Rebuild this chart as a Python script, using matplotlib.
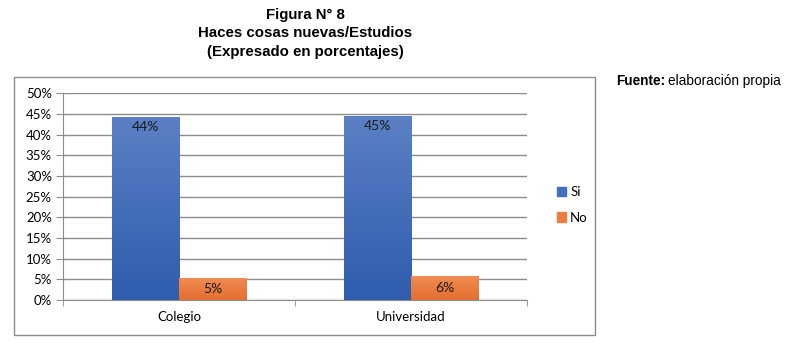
import numpy as np
import matplotlib
matplotlib.use("Agg")
import matplotlib.pyplot as plt
from matplotlib.colors import LinearSegmentedColormap
from matplotlib.patches import Rectangle

# Data
categories = ["Colegio", "Universidad"]
series_names = ["Si", "No"]
si_values = [44.2, 44.5]
no_values = [5.2, 5.7]
si_labels = ["44%", "45%"]
no_labels = ["5%", "6%"]
yticks = [0, 5, 10, 15, 20, 25, 30, 35, 40, 45, 50]

W, H = 808, 343
fig = plt.figure(figsize=(W / 100, H / 100), dpi=100)

# outer chart frame
fig.patches.append(Rectangle((14 / W, 1 - 335 / H), (595 - 14) / W, (335 - 77) / H,
                             transform=fig.transFigure, fill=False,
                             edgecolor="#8c8c8c", lw=1.0))

ax = fig.add_axes([63 / W, 1 - 300 / H, 464 / W, (300 - 93.3) / H])

x = np.arange(len(categories))
width = 0.29
blue_cmap = LinearSegmentedColormap.from_list("b", ["#2f5cad", "#5b80c5"])
orange_cmap = LinearSegmentedColormap.from_list("o", ["#e36e2e", "#f08b52"])

bars_si = ax.bar(x - width / 2, si_values, width, color="none", label=series_names[0], zorder=3)
bars_no = ax.bar(x + width / 2, no_values, width, color="none", label=series_names[1], zorder=3)

grad = np.linspace(0, 1, 256).reshape(-1, 1)
for bars, cmap in [(bars_si, blue_cmap), (bars_no, orange_cmap)]:
    for b in bars:
        x0, w, h = b.get_x(), b.get_width(), b.get_height()
        ax.imshow(grad, extent=[x0, x0 + w, 0, h], origin="lower", aspect="auto",
                  cmap=cmap, zorder=3)

font = "Lato"
for b, lab in zip(bars_si, si_labels):
    ax.text(b.get_x() + b.get_width() / 2, b.get_height() - 1.0, lab,
            ha="center", va="top", fontsize=10, family=font, color="#1a1a1a", zorder=4)
for b, lab in zip(bars_no, no_labels):
    ax.text(b.get_x() + b.get_width() / 2, b.get_height() / 2, lab,
            ha="center", va="center", fontsize=10, family=font, color="#1a1a1a", zorder=4)

ax.set_xlim(-0.5, len(categories) - 0.5)
ax.set_ylim(0, 50)
ax.set_yticks(yticks)
ax.set_yticklabels([f"{t}%" for t in yticks], family=font, fontsize=9.5)
ax.set_xticks(x)
ax.set_xticklabels(categories, family=font, fontsize=9.5)
ax.set_xticks([-0.5, 0.5, 1.5], minor=True)
ax.tick_params(axis="x", which="major", length=0, pad=8)
ax.tick_params(axis="x", which="minor", length=4, color="#8c8c8c", direction="out")
ax.tick_params(axis="y", length=5, color="#8c8c8c", pad=3)
ax.grid(axis="y", color="#8c8c8c", lw=1.0, zorder=0)
for s in ["top", "right"]:
    ax.spines[s].set_visible(False)
for s in ["left", "bottom"]:
    ax.spines[s].set_color("#8c8c8c")

handles = [Rectangle((0, 0), 1, 1, color="#4470bb"), Rectangle((0, 0), 1, 1, color="#ed7d3f")]
fig.legend(handles, series_names, loc="center left", bbox_to_anchor=(545 / W, 1 - 205 / H),
           frameon=False, handlelength=0.7, handleheight=0.7, handletextpad=0.3,
           labelspacing=1.0, prop={"family": font, "size": 9.5})

# title
tfont = "Liberation Sans"
fig.text(305 / W, 1 - 15 / H, "Figura N° 8", ha="center", va="center",
         fontsize=10.8, weight="bold", family=tfont)
fig.text(305 / W, 1 - 33 / H, "Haces cosas nuevas/Estudios", ha="center", va="center",
         fontsize=10.8, weight="bold", family=tfont)
fig.text(305 / W, 1 - 52 / H, "(Expresado en porcentajes)", ha="center", va="center",
         fontsize=10.8, weight="bold", family=tfont)

t1 = fig.text(616 / W, 1 - 81 / H, "Fuente:", ha="left", va="center",
              fontsize=9.8, weight="bold", family=tfont)
fig.canvas.draw()
bb = t1.get_window_extent()
fig.text(bb.x1 / W + 3 / W, 1 - 81 / H, "elaboración propia", ha="left", va="center",
         fontsize=9.8, family=tfont)

fig.savefig("out.png", dpi=100)
